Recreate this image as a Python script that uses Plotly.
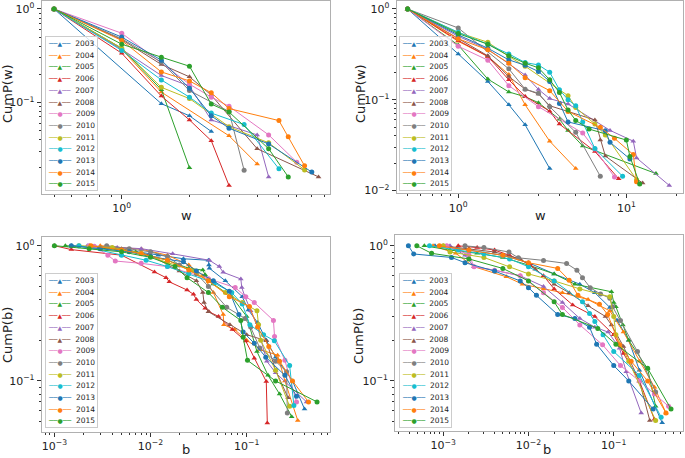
import plotly.graph_objects as go

YEARS = [2003, 2004, 2005, 2006, 2007, 2008, 2009, 2010, 2011, 2012, 2013, 2014, 2015]
COLORS = ['#1f77b4', '#ff7f0e', '#2ca02c', '#d62728', '#9467bd', '#8c564b', '#e377c2',
          '#7f7f7f', '#bcbd22', '#17becf', '#1f77b4', '#ff7f0e', '#2ca02c']
SYMBOLS = ['triangle-up'] * 6 + ['circle'] * 7

# ---------- top-left: CumP(w) ----------
TL_W = {
    2003: [0.5, 1.5, 2, 2.5],
    2004: [0.5, 1, 1.5, 3, 4],
    2005: [0.5, 1, 1.5, 2],
    2006: [0.5, 1, 1.5, 2, 2.5, 3],
    2007: [0.5, 1, 1.5, 2, 2.5, 4, 4.5],
    2008: [0.5, 1, 1.5, 2, 2.5, 4, 7.5],
    2009: [0.5, 1, 2, 2.5, 3, 4.5, 6],
    2010: [0.5, 1, 1.5, 2, 3, 3.5],
    2011: [0.5, 1, 1.5, 2, 3, 4.5, 6.5],
    2012: [0.5, 1, 1.5, 2, 2.5, 3.5, 5],
    2013: [0.5, 1, 1.5, 2, 2.5, 3, 4.5, 7],
    2014: [0.5, 1, 1.5, 2, 2.5, 3, 5, 5.5, 6.5],
    2015: [0.5, 1, 1.5, 2, 2.5, 3, 4.5, 5.5],
}
TL_P = {
    2003: [1, 0.097, 0.072, 0.049],
    2004: [1, 0.37, 0.129, 0.044, 0.022],
    2005: [1, 0.38, 0.137, 0.02],
    2006: [1, 0.336, 0.117, 0.065, 0.039, 0.0129],
    2007: [1, 0.37, 0.194, 0.15, 0.065, 0.045, 0.016],
    2008: [1, 0.47, 0.255, 0.188, 0.12, 0.032, 0.016],
    2009: [1, 0.55, 0.157, 0.114, 0.091, 0.045, 0.023],
    2010: [1, 0.48, 0.27, 0.134, 0.08, 0.0188],
    2011: [1, 0.38, 0.145, 0.11, 0.055, 0.037, 0.019],
    2012: [1, 0.36, 0.174, 0.114, 0.077, 0.058, 0.0195],
    2013: [1, 0.5, 0.283, 0.142, 0.072, 0.053, 0.036, 0.018],
    2014: [1, 0.46, 0.212, 0.17, 0.127, 0.086, 0.064, 0.043, 0.021],
    2015: [1, 0.42, 0.305, 0.244, 0.096, 0.079, 0.032, 0.016],
}

# ---------- top-right: CumP(w) ----------
TR_W = {
    2003: [0.5, 1, 1.5, 2, 2.5, 3.5],
    2004: [0.5, 1, 1.5, 2, 2.5, 3.5, 5],
    2005: [0.5, 1, 1.5, 2, 2.5, 3, 4, 4.5, 5.5, 15],
    2006: [0.5, 1, 1.5, 2, 2.5, 3.5, 4, 6.5, 9],
    2007: [0.5, 1, 1.5, 2, 2.5, 3, 3.5, 4.5, 8, 11, 11.5, 18],
    2008: [0.5, 1, 1.5, 2, 2.5, 3, 3.5, 6.5, 7, 7.5, 12.5],
    2009: [0.5, 1, 1.5, 2, 3, 5.5, 6.5, 8.5],
    2010: [0.5, 1, 2, 2.5, 3, 3.5, 5, 7],
    2011: [0.5, 1, 1.5, 2, 2.5, 4.5, 5, 6.5, 7.5, 11.5],
    2012: [0.5, 1, 1.5, 2, 2.5, 3, 3.5, 4, 4.5, 5, 5.5, 6.5, 9.5],
    2013: [0.5, 1, 1.5, 2, 2.5, 3, 3.5, 4, 4.5, 7.5, 8, 10.5],
    2014: [0.5, 1, 1.5, 2, 2.5, 3.5, 4.5, 7, 8.5, 11, 11.5],
    2015: [0.5, 1, 1.5, 2, 2.5, 3, 3.5, 4, 4.5, 5, 6, 10, 10.5, 12],
}
TR_P = {
    2003: [1, 0.32, 0.159, 0.088, 0.053, 0.0175],
    2004: [1, 0.44, 0.3, 0.19, 0.088, 0.035, 0.0175],
    2005: [1, 0.4, 0.169, 0.122, 0.108, 0.093, 0.061, 0.046, 0.031, 0.0154],
    2006: [1, 0.45, 0.3, 0.166, 0.109, 0.075, 0.054, 0.027, 0.0135],
    2007: [1, 0.5, 0.36, 0.25, 0.187, 0.13, 0.103, 0.09, 0.046, 0.035, 0.0229, 0.0114],
    2008: [1, 0.47, 0.305, 0.18, 0.131, 0.116, 0.086, 0.06, 0.036, 0.024, 0.0121],
    2009: [1, 0.389, 0.273, 0.143, 0.084, 0.043, 0.0287, 0.0141],
    2010: [1, 0.618, 0.219, 0.131, 0.118, 0.084, 0.0438, 0.0144],
    2011: [1, 0.55, 0.43, 0.3, 0.234, 0.111, 0.082, 0.054, 0.041, 0.0132],
    2012: [1, 0.554, 0.409, 0.32, 0.257, 0.242, 0.201, 0.129, 0.1, 0.086, 0.0569, 0.029, 0.0144],
    2013: [1, 0.518, 0.37, 0.275, 0.24, 0.205, 0.159, 0.091, 0.057, 0.0456, 0.034, 0.0223],
    2014: [1, 0.47, 0.355, 0.253, 0.175, 0.126, 0.0744, 0.0497, 0.0376, 0.0249, 0.0125],
    2015: [1, 0.536, 0.409, 0.305, 0.253, 0.225, 0.166, 0.12, 0.077, 0.0593, 0.0476, 0.036, 0.0238, 0.0118],
}

# ---------- bottom-left: CumP(b) ----------
BL_B = {
    2003: [0.0015, 0.003, 0.006, 0.012, 0.022, 0.04, 0.0405, 0.041, 0.06, 0.09, 0.104, 0.13, 0.16, 0.2, 0.3, 0.4],
    2004: [0.003, 0.0081, 0.015, 0.025, 0.035, 0.045, 0.057, 0.058, 0.075, 0.1, 0.14, 0.21, 0.25, 0.34],
    2005: [0.0013, 0.003, 0.007, 0.015, 0.025, 0.035, 0.037, 0.045, 0.07, 0.1, 0.128, 0.167, 0.22, 0.294],
    2006: [0.001, 0.0015, 0.005, 0.011, 0.0145, 0.0157, 0.024, 0.028, 0.03, 0.037, 0.0405, 0.051, 0.071, 0.098, 0.12, 0.16, 0.164],
    2007: [0.0022, 0.0045, 0.008, 0.017, 0.041, 0.052, 0.057, 0.087, 0.089, 0.096, 0.11, 0.13, 0.162, 0.2, 0.42],
    2008: [0.0023, 0.005, 0.01, 0.02, 0.03, 0.035, 0.036, 0.04, 0.067, 0.1, 0.16, 0.2, 0.27],
    2009: [0.0023, 0.0026, 0.0036, 0.0043, 0.008, 0.015, 0.025, 0.04, 0.076, 0.098, 0.12, 0.19, 0.195, 0.25, 0.33],
    2010: [0.0035, 0.006, 0.01, 0.015, 0.02, 0.03, 0.04, 0.062, 0.096, 0.11, 0.137, 0.2, 0.26, 0.265],
    2011: [0.0018, 0.004, 0.008, 0.015, 0.027, 0.04, 0.06, 0.09, 0.128, 0.133, 0.14, 0.2, 0.28],
    2012: [0.0018, 0.005, 0.009, 0.015, 0.025, 0.046, 0.07, 0.09, 0.108, 0.15, 0.194, 0.28, 0.31],
    2013: [0.0015, 0.003, 0.006, 0.01, 0.022, 0.03, 0.045, 0.066, 0.083, 0.092, 0.12, 0.158, 0.25, 0.33],
    2014: [0.0024, 0.005, 0.008, 0.015, 0.025, 0.04, 0.066, 0.107, 0.13, 0.17, 0.22, 0.3, 0.44],
    2015: [0.001, 0.0023, 0.005, 0.01, 0.018, 0.024, 0.04, 0.056, 0.087, 0.092, 0.102, 0.2, 0.54],
}
BL_P = {
    2003: [1, 0.97, 0.92, 0.85, 0.8, 0.78, 0.72, 0.68, 0.55, 0.42, 0.335, 0.27, 0.2, 0.15, 0.1, 0.062],
    2004: [1, 0.94, 0.85, 0.72, 0.6, 0.45, 0.31, 0.26, 0.24, 0.2, 0.17, 0.155, 0.1, 0.051],
    2005: [1, 0.96, 0.9, 0.78, 0.68, 0.66, 0.61, 0.52, 0.42, 0.3, 0.165, 0.11, 0.08, 0.0545],
    2006: [1, 0.935, 0.85, 0.64, 0.58, 0.54, 0.47, 0.437, 0.4, 0.345, 0.325, 0.3, 0.24, 0.197, 0.147, 0.099, 0.049],
    2007: [1, 0.97, 0.95, 0.87, 0.78, 0.7, 0.635, 0.567, 0.49, 0.42, 0.33, 0.25, 0.14, 0.115, 0.07],
    2008: [1, 0.95, 0.85, 0.65, 0.55, 0.45, 0.38, 0.325, 0.26, 0.22, 0.198, 0.12, 0.075],
    2009: [1, 0.99, 0.85, 0.77, 0.74, 0.7, 0.63, 0.57, 0.49, 0.42, 0.38, 0.28, 0.213, 0.142, 0.07],
    2010: [1, 0.95, 0.9, 0.83, 0.72, 0.62, 0.5, 0.35, 0.29, 0.25, 0.175, 0.14, 0.117, 0.058],
    2011: [1, 0.97, 0.88, 0.75, 0.66, 0.55, 0.45, 0.38, 0.33, 0.26, 0.2, 0.12, 0.065],
    2012: [1, 0.85, 0.78, 0.7, 0.62, 0.53, 0.45, 0.37, 0.26, 0.22, 0.198, 0.13, 0.066],
    2013: [1, 0.95, 0.9, 0.83, 0.76, 0.65, 0.55, 0.46, 0.31, 0.23, 0.19, 0.15, 0.11, 0.077],
    2014: [1, 0.93, 0.87, 0.78, 0.66, 0.55, 0.42, 0.355, 0.25, 0.18, 0.14, 0.1, 0.07],
    2015: [1, 0.95, 0.9, 0.82, 0.7, 0.58, 0.45, 0.35, 0.28, 0.21, 0.142, 0.1, 0.07],
}

# ---------- bottom-right: CumP(b) ----------
BR_B = {
    2003: [0.0008, 0.002, 0.005, 0.01, 0.02, 0.04, 0.06, 0.09, 0.11, 0.15, 0.2, 0.37],
    2004: [0.00076, 0.0014, 0.0023, 0.0055, 0.0085, 0.015, 0.025, 0.05, 0.09, 0.13, 0.2, 0.3, 0.41],
    2005: [0.0006, 0.0012, 0.0025, 0.005, 0.01, 0.02, 0.035, 0.094, 0.1, 0.106, 0.128, 0.15, 0.25, 0.31],
    2006: [0.0015, 0.0025, 0.004, 0.006, 0.0104, 0.015, 0.02, 0.033, 0.06, 0.1, 0.13, 0.2, 0.3],
    2007: [0.0012, 0.0018, 0.0023, 0.004, 0.008, 0.015, 0.025, 0.04, 0.06, 0.086, 0.117, 0.14, 0.21],
    2008: [0.001, 0.002, 0.004, 0.008, 0.012, 0.02, 0.03, 0.05, 0.08, 0.094, 0.13, 0.2, 0.265],
    2009: [0.0011, 0.002, 0.0023, 0.004, 0.008, 0.015, 0.025, 0.04, 0.074, 0.12, 0.2, 0.3, 0.44],
    2010: [0.0018, 0.003, 0.0059, 0.0076, 0.015, 0.028, 0.037, 0.043, 0.053, 0.07, 0.09, 0.097, 0.12, 0.19, 0.31],
    2011: [0.001, 0.0012, 0.003, 0.006, 0.01, 0.02, 0.04, 0.09, 0.1, 0.106, 0.15, 0.31],
    2012: [0.00069, 0.0015, 0.003, 0.006, 0.01, 0.02, 0.043, 0.052, 0.06, 0.075, 0.1, 0.2, 0.36],
    2013: [0.00039, 0.00045, 0.00125, 0.0018, 0.004, 0.008, 0.01, 0.0124, 0.022, 0.035, 0.052, 0.063, 0.1, 0.15, 0.29],
    2014: [0.0009, 0.002, 0.005, 0.01, 0.022, 0.03, 0.038, 0.068, 0.085, 0.117, 0.16, 0.25, 0.41],
    2015: [0.00049, 0.00073, 0.002, 0.005, 0.01, 0.02, 0.025, 0.065, 0.106, 0.25, 0.47],
}
BR_P = {
    2003: [1, 0.93, 0.85, 0.75, 0.62, 0.52, 0.45, 0.35, 0.28, 0.2, 0.12, 0.049],
    2004: [1, 0.88, 0.7, 0.59, 0.52, 0.48, 0.45, 0.4, 0.33, 0.23, 0.14, 0.09, 0.058],
    2005: [1, 0.93, 0.88, 0.82, 0.72, 0.62, 0.52, 0.457, 0.38, 0.354, 0.26, 0.2, 0.123, 0.065],
    2006: [1, 0.97, 0.93, 0.85, 0.73, 0.6, 0.48, 0.365, 0.3, 0.22, 0.16, 0.1, 0.052],
    2007: [1, 0.85, 0.7, 0.66, 0.6, 0.5, 0.38, 0.29, 0.25, 0.23, 0.175, 0.117, 0.058],
    2008: [1, 0.95, 0.9, 0.8, 0.67, 0.52, 0.45, 0.36, 0.3, 0.26, 0.18, 0.1, 0.051],
    2009: [1, 0.86, 0.7, 0.66, 0.6, 0.45, 0.35, 0.26, 0.185, 0.13, 0.1, 0.08, 0.065],
    2010: [1, 0.97, 0.9, 0.815, 0.78, 0.74, 0.66, 0.58, 0.49, 0.44, 0.41, 0.354, 0.28, 0.165, 0.083],
    2011: [1, 0.9, 0.82, 0.7, 0.62, 0.55, 0.48, 0.42, 0.3, 0.22, 0.14, 0.051],
    2012: [1, 0.93, 0.87, 0.8, 0.7, 0.55, 0.385, 0.316, 0.275, 0.22, 0.165, 0.11, 0.054],
    2013: [1, 0.87, 0.82, 0.75, 0.65, 0.55, 0.49, 0.43, 0.31, 0.29, 0.25, 0.187, 0.13, 0.1, 0.062],
    2014: [1, 0.93, 0.85, 0.75, 0.68, 0.557, 0.43, 0.37, 0.31, 0.185, 0.14, 0.1, 0.058],
    2015: [1, 0.88, 0.8, 0.68, 0.55, 0.385, 0.31, 0.245, 0.187, 0.124, 0.062],
}

W, H = 685, 458


def sup(e):
    return "10<sup>" + str(e).replace("-", "\u2212") + "</sup>"


def minors(decades):
    vals = []
    for d in decades:
        for m in range(2, 10):
            vals.append(m * 10.0 ** d)
    return vals


PANELS = [
    dict(xs=TL_W, ys=TL_P, ax='x', ay='y', xdom=[41.7, 330], ydom=[1, 194],
         xr=[-0.356, 0.926], yr=[-1.979, 0.085], xt=[0], yt=[-1, 0],
         xm=[-1, 0], ym=[-2, -1], xtitle='w', ytitle='CumP(w)',
         xtpos=(186, 215), ytpos=(7, 94), legpos=(45, 36)),
    dict(xs=TR_W, ys=TR_P, ax='x2', ay='y2', xdom=[396.7, 683], ydom=[1, 193.3],
         xr=[-0.366, 1.337], yr=[-2.03, 0.088], xt=[0, 1], yt=[-2, -1, 0],
         xm=[-1, 0, 1], ym=[-2, -1], xtitle='w', ytitle='CumP(w)',
         xtpos=(540, 215), ytpos=(360, 94), legpos=(399.3, 36)),
    dict(xs=BL_B, ys=BL_P, ax='x3', ay='y3', xdom=[41.7, 330], ydom=[237, 431.7],
         xr=[-3.132, -0.133], yr=[-1.375, 0.064], xt=[-3, -2, -1], yt=[-1, 0],
         xm=[-4, -3, -2, -1], ym=[-2, -1], xtitle='b', ytitle='CumP(b)',
         xtpos=(186, 449.5), ytpos=(7, 335), legpos=(45, 272.7)),
    dict(xs=BR_B, ys=BR_P, ax='x4', ay='y4', xdom=[395, 683], ydom=[235, 431],
         xr=[-3.566, -0.1875], yr=[-1.37, 0.08], xt=[-3, -2, -1], yt=[-1, 0],
         xm=[-4, -3, -2, -1], ym=[-2, -1], xtitle='b', ytitle='CumP(b)',
         xtpos=(547, 449.5), ytpos=(358, 336), legpos=(399.3, 272.7)),
]

fig = go.Figure()
layout = dict(width=W, height=H, margin=dict(l=0, r=0, t=0, b=0),
              paper_bgcolor='white', plot_bgcolor='white', showlegend=False,
              font=dict(family='DejaVu Sans', color='#222'))

TICKC = '#333333'
annotations = []
for i, p in enumerate(PANELS):
    for j, yr in enumerate(YEARS):
        fig.add_trace(go.Scatter(
            x=p['xs'][yr], y=p['ys'][yr], mode='lines+markers', name=str(yr),
            xaxis=p['ax'], yaxis=p['ay'],
            line=dict(color=COLORS[j], width=1),
            marker=dict(color=COLORS[j], symbol=SYMBOLS[j], size=5, line=dict(width=0)),
        ))
    sfx = '' if i == 0 else str(i + 1)
    xd = [p['xdom'][0] / W, p['xdom'][1] / W]
    yd = [1 - p['ydom'][1] / H, 1 - p['ydom'][0] / H]
    common = dict(type='log', showgrid=False, zeroline=False, showline=True,
                  linecolor='#b0b0b0', linewidth=1, mirror=True,
                  ticks='outside', ticklen=4, tickwidth=1, tickcolor=TICKC,
                  tickfont=dict(size=11, color='#222'), automargin=False)
    layout['xaxis' + sfx] = dict(
        common, domain=xd, range=p['xr'], anchor='y' + sfx,
        tickvals=[10.0 ** e for e in p['xt']], ticktext=[sup(e) for e in p['xt']],
        minor=dict(tickvals=minors(p['xm']), ticks='outside', ticklen=2, tickcolor=TICKC, showgrid=False))
    layout['yaxis' + sfx] = dict(
        common, domain=yd, range=p['yr'], anchor='x' + sfx,
        tickvals=[10.0 ** e for e in p['yt']], ticktext=[sup(e) for e in p['yt']],
        minor=dict(tickvals=minors(p['ym']), ticks='outside', ticklen=2, tickcolor=TICKC, showgrid=False))

    # axis titles
    annotations.append(dict(xref='paper', yref='paper', x=p['xtpos'][0] / W, y=1 - p['xtpos'][1] / H,
                            xanchor='center', yanchor='middle', showarrow=False, text=p['xtitle'],
                            font=dict(size=13, color='#222')))
    annotations.append(dict(xref='paper', yref='paper', x=p['ytpos'][0] / W, y=1 - p['ytpos'][1] / H,
                            xanchor='center', yanchor='middle', showarrow=False, text=p['ytitle'],
                            textangle=-90, font=dict(size=13, color='#222')))

    # legend box
    lines = []
    for j, yr in enumerate(YEARS):
        mk = '\u25B2' if SYMBOLS[j] == 'triangle-up' else '\u25CF'
        lines.append(
            '<span style="color:%s;font-size:7px">\u2500\u2500</span>'
            '<span style="color:%s;font-size:6px">%s</span>'
            '<span style="color:%s;font-size:7px">\u2500\u2500</span>'
            '<span style="font-size:7.5px">  %d</span>' % (COLORS[j], COLORS[j], mk, COLORS[j], yr))
    lx, ly = p['legpos']
    annotations.append(dict(
        xref='paper', yref='paper', x=lx / W, y=1 - ly / H, xanchor='left', yanchor='top',
        align='left', showarrow=False, text='<br>'.join(lines),
        font=dict(size=9, family='DejaVu Sans', color='#222'),
        bgcolor='rgba(255,255,255,0.8)', bordercolor='#cccccc', borderwidth=1, borderpad=2))

layout['annotations'] = annotations

fig.update_layout(**layout)
fig.write_html('out.html', config={'displayModeBar': False},
               post_script="document.body.style.margin='0';document.body.style.overflow='hidden';")
